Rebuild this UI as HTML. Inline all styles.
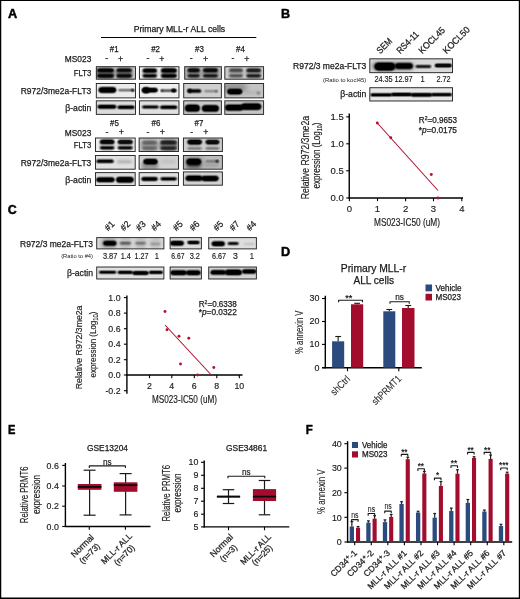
<!DOCTYPE html>
<html><head><meta charset="utf-8"><title>Figure</title>
<style>
html,body{margin:0;padding:0;background:#fff;}
body{width:520px;height:599px;overflow:hidden;position:relative;font-family:"Liberation Sans", sans-serif;}
svg{position:absolute;left:0;top:0;display:block;}
svg text{font-family:"Liberation Sans", sans-serif;}
</style></head><body>
<svg width="520" height="599" viewBox="0 0 520 599" fill="#1a1a1a">
<defs>
<filter id="b1" x="-50%" y="-300%" width="200%" height="700%"><feGaussianBlur stdDeviation="0.8"/><feComponentTransfer><feFuncA type="linear" slope="1.5" intercept="-0.08"/></feComponentTransfer></filter>
<filter id="b2" x="-50%" y="-300%" width="200%" height="700%"><feGaussianBlur stdDeviation="1.5"/></filter>
<filter id="b0" x="-50%" y="-300%" width="200%" height="700%"><feGaussianBlur stdDeviation="0.8"/><feComponentTransfer><feFuncA type="linear" slope="1.9" intercept="-0.1"/></feComponentTransfer></filter>
<filter id="b3" x="-50%" y="-300%" width="200%" height="700%"><feGaussianBlur stdDeviation="2.5"/></filter>
<filter id="bb" x="-5%" y="-20%" width="110%" height="140%"><feGaussianBlur stdDeviation="0.35"/></filter>
</defs>
<rect x="0.00" y="0.00" width="520.00" height="1.00" fill="#000"/>
<rect x="0.00" y="0.00" width="1.25" height="599.00" fill="#000"/>
<rect x="518.80" y="0.00" width="1.20" height="599.00" fill="#000"/>
<rect x="0.00" y="597.50" width="520.00" height="1.50" fill="#000"/>
<text x="7.90" y="18.10" font-size="12.4" font-weight="bold" textLength="9.20" lengthAdjust="spacingAndGlyphs" fill="#000" stroke="#000" stroke-width="0.45">A</text>
<text x="281.00" y="18.10" font-size="12.6" font-weight="bold" fill="#000" stroke="#000" stroke-width="0.45">B</text>
<text x="7.80" y="213.70" font-size="12.4" font-weight="bold" fill="#000" stroke="#000" stroke-width="0.45">C</text>
<text x="281.10" y="255.80" font-size="12.4" font-weight="bold" textLength="9.20" lengthAdjust="spacingAndGlyphs" fill="#000" stroke="#000" stroke-width="0.45">D</text>
<text x="8.10" y="433.80" font-size="12.4" font-weight="bold" textLength="7.40" lengthAdjust="spacingAndGlyphs" fill="#000" stroke="#000" stroke-width="0.45">E</text>
<text x="305.70" y="433.80" font-size="12.4" font-weight="bold" textLength="7.00" lengthAdjust="spacingAndGlyphs" fill="#000" stroke="#000" stroke-width="0.45">F</text>
<text x="133.70" y="31.60" font-size="8.8" textLength="91.50" lengthAdjust="spacingAndGlyphs" stroke="#1a1a1a" stroke-width="0.25">Primary MLL-r ALL cells</text>
<line x1="101.00" y1="37.50" x2="256.30" y2="37.50" stroke="#000" stroke-width="1.0"/>
<text x="114.20" y="52.20" font-size="8.8" text-anchor="middle" textLength="8.80" lengthAdjust="spacingAndGlyphs" stroke="#1a1a1a" stroke-width="0.25">#1</text>
<text x="155.60" y="52.20" font-size="8.8" text-anchor="middle" textLength="8.80" lengthAdjust="spacingAndGlyphs" stroke="#1a1a1a" stroke-width="0.25">#2</text>
<text x="199.40" y="52.20" font-size="8.8" text-anchor="middle" textLength="8.80" lengthAdjust="spacingAndGlyphs" stroke="#1a1a1a" stroke-width="0.25">#3</text>
<text x="240.50" y="52.20" font-size="8.8" text-anchor="middle" textLength="8.80" lengthAdjust="spacingAndGlyphs" stroke="#1a1a1a" stroke-width="0.25">#4</text>
<text x="91.30" y="61.70" font-size="8.8" text-anchor="end" textLength="26.50" lengthAdjust="spacingAndGlyphs" stroke="#1a1a1a" stroke-width="0.25">MS023</text>
<text x="106.80" y="61.30" font-size="8.8" text-anchor="middle" stroke="#1a1a1a" stroke-width="0.25">-</text>
<text x="120.50" y="61.60" font-size="8.8" text-anchor="middle" stroke="#1a1a1a" stroke-width="0.25">+</text>
<text x="148.00" y="61.30" font-size="8.8" text-anchor="middle" stroke="#1a1a1a" stroke-width="0.25">-</text>
<text x="161.80" y="61.60" font-size="8.8" text-anchor="middle" stroke="#1a1a1a" stroke-width="0.25">+</text>
<text x="191.30" y="61.30" font-size="8.8" text-anchor="middle" stroke="#1a1a1a" stroke-width="0.25">-</text>
<text x="205.50" y="61.60" font-size="8.8" text-anchor="middle" stroke="#1a1a1a" stroke-width="0.25">+</text>
<text x="233.00" y="61.30" font-size="8.8" text-anchor="middle" stroke="#1a1a1a" stroke-width="0.25">-</text>
<text x="246.80" y="61.60" font-size="8.8" text-anchor="middle" stroke="#1a1a1a" stroke-width="0.25">+</text>
<text x="91.30" y="75.50" font-size="8.8" text-anchor="end" textLength="17.50" lengthAdjust="spacingAndGlyphs" stroke="#1a1a1a" stroke-width="0.25">FLT3</text>
<text x="91.30" y="93.60" font-size="8.8" text-anchor="end" textLength="70.60" lengthAdjust="spacingAndGlyphs" stroke="#1a1a1a" stroke-width="0.25">R972/3me2a-FLT3</text>
<text x="91.30" y="110.70" font-size="8.8" text-anchor="end" textLength="26.00" lengthAdjust="spacingAndGlyphs" stroke="#1a1a1a" stroke-width="0.25">β-actin</text>
<clipPath id="c1"><rect x="95.90" y="66.30" width="40.00" height="13.30"/></clipPath>
<g clip-path="url(#c1)">
<rect x="95.90" y="66.30" width="40.00" height="13.30" fill="#c4c4c4"/>
<rect x="97.00" y="68.65" width="17.00" height="3.30" rx="1.65" fill="#000" opacity="0.95" filter="url(#b1)"/>
<rect x="97.00" y="74.25" width="17.00" height="3.30" rx="1.65" fill="#000" opacity="0.95" filter="url(#b1)"/>
<rect x="96.50" y="67.90" width="18.00" height="10.40" rx="5.20" fill="#000" opacity="0.5" filter="url(#b2)"/>
<rect x="116.40" y="68.75" width="15.50" height="3.10" rx="1.55" fill="#000" opacity="0.9" filter="url(#b1)"/>
<rect x="116.40" y="74.35" width="15.50" height="3.10" rx="1.55" fill="#000" opacity="0.9" filter="url(#b1)"/>
<rect x="115.90" y="68.00" width="16.50" height="10.20" rx="5.10" fill="#000" opacity="0.45" filter="url(#b2)"/>
</g>
<rect x="96.32" y="66.72" width="39.16" height="12.46" fill="none" stroke="#262626" stroke-width="0.95"/>
<clipPath id="c2"><rect x="95.90" y="83.10" width="40.00" height="15.20"/></clipPath>
<g clip-path="url(#c2)">
<rect x="95.90" y="83.10" width="40.00" height="15.20" fill="#ececec"/>
<rect x="98.60" y="87.35" width="17.60" height="5.50" rx="2.75" fill="#000" opacity="1" filter="url(#b1)"/>
<rect x="118.00" y="89.40" width="16.40" height="1.60" rx="0.80" fill="#000" opacity="0.6" filter="url(#b0)"/>
<ellipse cx="132.80" cy="90.20" rx="1.50" ry="1.20" fill="#000" opacity="0.8" filter="url(#b0)"/>
</g>
<rect x="96.32" y="83.52" width="39.16" height="14.36" fill="none" stroke="#262626" stroke-width="0.95"/>
<clipPath id="c3"><rect x="95.90" y="100.40" width="40.00" height="14.40"/></clipPath>
<g clip-path="url(#c3)">
<rect x="95.90" y="100.40" width="40.00" height="14.40" fill="#dcdcdc"/>
<rect x="97.50" y="105.10" width="18.90" height="3.40" rx="1.70" fill="#000" opacity="1" filter="url(#b1)"/>
<rect x="117.40" y="105.80" width="17.20" height="3.00" rx="1.50" fill="#000" opacity="1" filter="url(#b1)"/>
</g>
<rect x="96.32" y="100.82" width="39.16" height="13.56" fill="none" stroke="#262626" stroke-width="0.95"/>
<clipPath id="c4"><rect x="139.00" y="66.30" width="40.40" height="13.30"/></clipPath>
<g clip-path="url(#c4)">
<rect x="139.00" y="66.30" width="40.40" height="13.30" fill="#f2f2f2"/>
<rect x="142.60" y="68.70" width="14.40" height="3.80" rx="1.90" fill="#000" opacity="0.97" filter="url(#b1)"/>
<rect x="142.60" y="74.50" width="14.40" height="2.80" rx="1.40" fill="#000" opacity="0.97" filter="url(#b1)"/>
<rect x="142.10" y="67.95" width="15.40" height="10.60" rx="5.30" fill="#000" opacity="0.3" filter="url(#b2)"/>
<rect x="161.00" y="68.60" width="15.80" height="4.00" rx="2.00" fill="#000" opacity="0.98" filter="url(#b1)"/>
<rect x="161.00" y="74.30" width="15.80" height="3.20" rx="1.60" fill="#000" opacity="0.98" filter="url(#b1)"/>
<rect x="160.50" y="67.85" width="16.80" height="10.80" rx="5.40" fill="#000" opacity="0.4" filter="url(#b2)"/>
</g>
<rect x="139.42" y="66.72" width="39.56" height="12.46" fill="none" stroke="#262626" stroke-width="0.95"/>
<clipPath id="c5"><rect x="139.00" y="83.10" width="40.40" height="15.20"/></clipPath>
<g clip-path="url(#c5)">
<rect x="139.00" y="83.10" width="40.40" height="15.20" fill="#efefef"/>
<rect x="142.20" y="88.10" width="15.50" height="4.20" rx="2.10" fill="#000" opacity="1" filter="url(#b1)"/>
<ellipse cx="146.00" cy="90.20" rx="3.80" ry="3.00" fill="#000" opacity="1" filter="url(#b1)"/>
<rect x="160.60" y="89.75" width="16.20" height="1.70" rx="0.85" fill="#000" opacity="0.65" filter="url(#b0)"/>
<ellipse cx="173.80" cy="90.50" rx="2.40" ry="1.80" fill="#000" opacity="0.95" filter="url(#b0)"/>
<ellipse cx="162.00" cy="90.60" rx="1.30" ry="1.20" fill="#000" opacity="0.6" filter="url(#b0)"/>
</g>
<rect x="139.42" y="83.52" width="39.56" height="14.36" fill="none" stroke="#262626" stroke-width="0.95"/>
<clipPath id="c6"><rect x="139.00" y="100.40" width="40.40" height="14.40"/></clipPath>
<g clip-path="url(#c6)">
<rect x="139.00" y="100.40" width="40.40" height="14.40" fill="#e0e0e0"/>
<rect x="142.00" y="105.70" width="16.80" height="2.60" rx="1.30" fill="#000" opacity="1" filter="url(#b1)"/>
<rect x="160.00" y="105.70" width="17.30" height="3.00" rx="1.50" fill="#000" opacity="1" filter="url(#b1)"/>
</g>
<rect x="139.42" y="100.82" width="39.56" height="13.56" fill="none" stroke="#262626" stroke-width="0.95"/>
<clipPath id="c7"><rect x="184.30" y="66.30" width="37.50" height="13.30"/></clipPath>
<g clip-path="url(#c7)">
<rect x="184.30" y="66.30" width="37.50" height="13.30" fill="#b4b4b4"/>
<rect x="187.50" y="68.60" width="12.30" height="3.40" rx="1.70" fill="#000" opacity="0.9" filter="url(#b1)"/>
<rect x="187.50" y="74.80" width="12.30" height="2.20" rx="1.10" fill="#000" opacity="0.9" filter="url(#b1)"/>
<rect x="187.00" y="67.85" width="13.30" height="10.50" rx="5.25" fill="#000" opacity="0.3" filter="url(#b2)"/>
<rect x="203.00" y="68.60" width="14.90" height="3.40" rx="1.70" fill="#000" opacity="0.92" filter="url(#b1)"/>
<rect x="203.00" y="74.70" width="14.90" height="2.40" rx="1.20" fill="#000" opacity="0.92" filter="url(#b1)"/>
<rect x="202.50" y="67.85" width="15.90" height="10.50" rx="5.25" fill="#000" opacity="0.3" filter="url(#b2)"/>
</g>
<rect x="184.72" y="66.72" width="36.66" height="12.46" fill="none" stroke="#262626" stroke-width="0.95"/>
<clipPath id="c8"><rect x="183.30" y="83.10" width="38.50" height="15.20"/></clipPath>
<g clip-path="url(#c8)">
<rect x="183.30" y="83.10" width="38.50" height="15.20" fill="#cfcfcf"/>
<rect x="187.50" y="89.50" width="13.90" height="3.00" rx="1.50" fill="#000" opacity="0.95" filter="url(#b1)"/>
<ellipse cx="189.50" cy="90.80" rx="2.20" ry="2.00" fill="#000" opacity="0.9" filter="url(#b1)"/>
<rect x="204.00" y="90.55" width="13.80" height="1.50" rx="0.75" fill="#000" opacity="0.45" filter="url(#b1)"/>
<ellipse cx="216.50" cy="91.30" rx="1.30" ry="1.20" fill="#000" opacity="0.4" filter="url(#b1)"/>
</g>
<rect x="183.72" y="83.52" width="37.66" height="14.36" fill="none" stroke="#262626" stroke-width="0.95"/>
<clipPath id="c9"><rect x="183.30" y="100.40" width="38.50" height="14.40"/></clipPath>
<g clip-path="url(#c9)">
<rect x="183.30" y="100.40" width="38.50" height="14.40" fill="#c9c9c9"/>
<rect x="185.00" y="104.80" width="14.80" height="6.80" rx="3.40" fill="#000" opacity="1" filter="url(#b1)"/>
<rect x="202.00" y="105.30" width="16.80" height="6.20" rx="3.10" fill="#000" opacity="1" filter="url(#b1)"/>
</g>
<rect x="183.72" y="100.82" width="37.66" height="13.56" fill="none" stroke="#262626" stroke-width="0.95"/>
<clipPath id="c10"><rect x="224.40" y="66.30" width="39.60" height="13.30"/></clipPath>
<g clip-path="url(#c10)">
<rect x="224.40" y="66.30" width="39.60" height="13.30" fill="#cdcdcd"/>
<rect x="229.00" y="68.80" width="14.00" height="3.00" rx="1.50" fill="#000" opacity="0.55" filter="url(#b1)"/>
<rect x="229.00" y="74.80" width="14.00" height="2.20" rx="1.10" fill="#000" opacity="0.55" filter="url(#b1)"/>
<rect x="228.50" y="68.05" width="15.00" height="10.10" rx="5.05" fill="#000" opacity="0.2" filter="url(#b2)"/>
<rect x="246.30" y="68.70" width="14.70" height="3.20" rx="1.60" fill="#000" opacity="0.8" filter="url(#b1)"/>
<rect x="246.30" y="74.60" width="14.70" height="2.60" rx="1.30" fill="#000" opacity="0.8" filter="url(#b1)"/>
<rect x="245.80" y="67.95" width="15.70" height="10.30" rx="5.15" fill="#000" opacity="0.25" filter="url(#b2)"/>
</g>
<rect x="224.82" y="66.72" width="38.76" height="12.46" fill="none" stroke="#262626" stroke-width="0.95"/>
<clipPath id="c11"><rect x="224.40" y="83.10" width="39.60" height="15.20"/></clipPath>
<g clip-path="url(#c11)">
<rect x="224.40" y="83.10" width="39.60" height="15.20" fill="#c4c4c4"/>
<rect x="223.00" y="83.00" width="24.00" height="9.00" rx="4.50" fill="#000" opacity="0.25" filter="url(#b3)"/>
<rect x="227.30" y="88.90" width="14.90" height="5.40" rx="2.70" fill="#000" opacity="1" filter="url(#b1)"/>
<rect x="246.00" y="91.50" width="15.00" height="2.20" rx="1.10" fill="#000" opacity="0.12" filter="url(#b2)"/>
<ellipse cx="258.40" cy="93.00" rx="1.60" ry="1.50" fill="#000" opacity="0.3" filter="url(#b1)"/>
</g>
<rect x="224.82" y="83.52" width="38.76" height="14.36" fill="none" stroke="#262626" stroke-width="0.95"/>
<clipPath id="c12"><rect x="224.40" y="100.40" width="39.60" height="14.40"/></clipPath>
<g clip-path="url(#c12)">
<rect x="224.40" y="100.40" width="39.60" height="14.40" fill="#c6c6c6"/>
<rect x="225.00" y="104.70" width="18.50" height="5.80" rx="2.90" fill="#000" opacity="1" filter="url(#b1)"/>
<rect x="241.00" y="103.40" width="20.20" height="6.40" rx="3.20" fill="#000" opacity="1" filter="url(#b1)"/>
</g>
<rect x="224.82" y="100.82" width="38.76" height="13.56" fill="none" stroke="#262626" stroke-width="0.95"/>
<text x="114.50" y="126.10" font-size="8.8" text-anchor="middle" textLength="8.80" lengthAdjust="spacingAndGlyphs" stroke="#1a1a1a" stroke-width="0.25">#5</text>
<text x="156.00" y="126.10" font-size="8.8" text-anchor="middle" textLength="8.80" lengthAdjust="spacingAndGlyphs" stroke="#1a1a1a" stroke-width="0.25">#6</text>
<text x="199.00" y="126.10" font-size="8.8" text-anchor="middle" textLength="8.80" lengthAdjust="spacingAndGlyphs" stroke="#1a1a1a" stroke-width="0.25">#7</text>
<text x="91.30" y="135.60" font-size="8.8" text-anchor="end" textLength="26.50" lengthAdjust="spacingAndGlyphs" stroke="#1a1a1a" stroke-width="0.25">MS023</text>
<text x="107.00" y="135.10" font-size="8.8" text-anchor="middle" stroke="#1a1a1a" stroke-width="0.25">-</text>
<text x="121.30" y="135.40" font-size="8.8" text-anchor="middle" stroke="#1a1a1a" stroke-width="0.25">+</text>
<text x="147.90" y="135.10" font-size="8.8" text-anchor="middle" stroke="#1a1a1a" stroke-width="0.25">-</text>
<text x="162.20" y="135.40" font-size="8.8" text-anchor="middle" stroke="#1a1a1a" stroke-width="0.25">+</text>
<text x="191.80" y="135.10" font-size="8.8" text-anchor="middle" stroke="#1a1a1a" stroke-width="0.25">-</text>
<text x="205.80" y="135.40" font-size="8.8" text-anchor="middle" stroke="#1a1a1a" stroke-width="0.25">+</text>
<text x="91.30" y="148.10" font-size="8.8" text-anchor="end" textLength="17.50" lengthAdjust="spacingAndGlyphs" stroke="#1a1a1a" stroke-width="0.25">FLT3</text>
<text x="91.30" y="165.60" font-size="8.8" text-anchor="end" textLength="70.60" lengthAdjust="spacingAndGlyphs" stroke="#1a1a1a" stroke-width="0.25">R972/3me2a-FLT3</text>
<text x="91.30" y="183.10" font-size="8.8" text-anchor="end" textLength="26.00" lengthAdjust="spacingAndGlyphs" stroke="#1a1a1a" stroke-width="0.25">β-actin</text>
<clipPath id="c13"><rect x="95.10" y="137.60" width="40.50" height="14.30"/></clipPath>
<g clip-path="url(#c13)">
<rect x="95.10" y="137.60" width="40.50" height="14.30" fill="#efefef"/>
<rect x="99.80" y="139.70" width="14.70" height="4.40" rx="2.20" fill="#000" opacity="0.97" filter="url(#b1)"/>
<rect x="99.80" y="146.40" width="14.70" height="2.80" rx="1.40" fill="#000" opacity="0.97" filter="url(#b1)"/>
<rect x="99.30" y="138.95" width="15.70" height="11.80" rx="5.90" fill="#000" opacity="0.15" filter="url(#b2)"/>
<rect x="117.60" y="139.90" width="15.20" height="4.00" rx="2.00" fill="#000" opacity="0.95" filter="url(#b1)"/>
<rect x="117.60" y="146.40" width="15.20" height="2.80" rx="1.40" fill="#000" opacity="0.95" filter="url(#b1)"/>
<rect x="117.10" y="139.15" width="16.20" height="11.40" rx="5.70" fill="#000" opacity="0.15" filter="url(#b2)"/>
</g>
<rect x="95.52" y="138.02" width="39.66" height="13.46" fill="none" stroke="#262626" stroke-width="0.95"/>
<clipPath id="c14"><rect x="95.10" y="155.10" width="40.50" height="14.50"/></clipPath>
<g clip-path="url(#c14)">
<rect x="95.10" y="155.10" width="40.50" height="14.50" fill="#e2e2e2"/>
<rect x="96.30" y="159.80" width="17.50" height="3.00" rx="1.50" fill="#000" opacity="0.97" filter="url(#b1)"/>
<rect x="117.00" y="160.60" width="14.80" height="2.40" rx="1.20" fill="#000" opacity="0.3" filter="url(#b2)"/>
</g>
<rect x="95.52" y="155.52" width="39.66" height="13.66" fill="none" stroke="#262626" stroke-width="0.95"/>
<clipPath id="c15"><rect x="95.10" y="172.20" width="40.50" height="13.70"/></clipPath>
<g clip-path="url(#c15)">
<rect x="95.10" y="172.20" width="40.50" height="13.70" fill="#dedede"/>
<rect x="96.30" y="177.50" width="18.30" height="4.40" rx="2.20" fill="#000" opacity="1" filter="url(#b1)"/>
<rect x="116.20" y="177.00" width="17.40" height="5.40" rx="2.70" fill="#000" opacity="1" filter="url(#b1)"/>
</g>
<rect x="95.52" y="172.62" width="39.66" height="12.86" fill="none" stroke="#262626" stroke-width="0.95"/>
<clipPath id="c16"><rect x="138.70" y="137.60" width="40.20" height="14.30"/></clipPath>
<g clip-path="url(#c16)">
<rect x="138.70" y="137.60" width="40.20" height="14.30" fill="#bebebe"/>
<rect x="142.00" y="141.10" width="15.20" height="3.00" rx="1.50" fill="#000" opacity="0.3" filter="url(#b1)"/>
<rect x="142.00" y="147.00" width="15.20" height="2.40" rx="1.20" fill="#000" opacity="0.3" filter="url(#b1)"/>
<rect x="141.50" y="140.35" width="16.20" height="10.10" rx="5.05" fill="#000" opacity="0.25" filter="url(#b2)"/>
<rect x="160.30" y="140.70" width="16.50" height="3.40" rx="1.70" fill="#000" opacity="0.7" filter="url(#b1)"/>
<rect x="160.30" y="146.90" width="16.50" height="2.60" rx="1.30" fill="#000" opacity="0.7" filter="url(#b1)"/>
<rect x="159.80" y="139.95" width="17.50" height="10.70" rx="5.35" fill="#000" opacity="0.45" filter="url(#b2)"/>
</g>
<rect x="139.12" y="138.02" width="39.36" height="13.46" fill="none" stroke="#262626" stroke-width="0.95"/>
<clipPath id="c17"><rect x="138.70" y="155.10" width="40.20" height="14.50"/></clipPath>
<g clip-path="url(#c17)">
<rect x="138.70" y="155.10" width="40.20" height="14.50" fill="#d2d2d2"/>
<rect x="141.50" y="161.50" width="17.00" height="8.00" rx="4.00" fill="#000" opacity="0.3" filter="url(#b2)"/>
<rect x="143.40" y="159.00" width="14.20" height="5.20" rx="2.60" fill="#000" opacity="1" filter="url(#b1)"/>
<rect x="161.00" y="160.00" width="15.00" height="3.00" rx="1.50" fill="#000" opacity="0.1" filter="url(#b2)"/>
</g>
<rect x="139.12" y="155.52" width="39.36" height="13.66" fill="none" stroke="#262626" stroke-width="0.95"/>
<clipPath id="c18"><rect x="138.70" y="172.20" width="40.20" height="13.70"/></clipPath>
<g clip-path="url(#c18)">
<rect x="138.70" y="172.20" width="40.20" height="13.70" fill="#e0e0e0"/>
<rect x="141.30" y="177.30" width="16.50" height="3.40" rx="1.70" fill="#000" opacity="1" filter="url(#b1)"/>
<rect x="160.30" y="177.40" width="16.60" height="2.80" rx="1.40" fill="#000" opacity="1" filter="url(#b1)"/>
</g>
<rect x="139.12" y="172.62" width="39.36" height="12.86" fill="none" stroke="#262626" stroke-width="0.95"/>
<clipPath id="c19"><rect x="183.00" y="137.60" width="39.80" height="14.30"/></clipPath>
<g clip-path="url(#c19)">
<rect x="183.00" y="137.60" width="39.80" height="14.30" fill="#cdcdcd"/>
<rect x="187.30" y="139.80" width="14.70" height="4.60" rx="2.30" fill="#000" opacity="0.97" filter="url(#b1)"/>
<rect x="187.30" y="147.45" width="14.70" height="1.90" rx="0.95" fill="#000" opacity="0.5" filter="url(#b1)"/>
<rect x="205.50" y="139.90" width="13.90" height="4.40" rx="2.20" fill="#000" opacity="0.95" filter="url(#b1)"/>
<rect x="205.50" y="147.45" width="13.90" height="1.90" rx="0.95" fill="#000" opacity="0.55" filter="url(#b1)"/>
</g>
<rect x="183.42" y="138.02" width="38.96" height="13.46" fill="none" stroke="#262626" stroke-width="0.95"/>
<clipPath id="c20"><rect x="183.00" y="155.10" width="39.80" height="14.50"/></clipPath>
<g clip-path="url(#c20)">
<rect x="183.00" y="155.10" width="39.80" height="14.50" fill="#bcbcbc"/>
<rect x="184.00" y="157.00" width="20.00" height="12.00" rx="6.00" fill="#000" opacity="0.22" filter="url(#b3)"/>
<rect x="186.40" y="158.70" width="14.80" height="6.00" rx="3.00" fill="#000" opacity="1" filter="url(#b1)"/>
<rect x="187.00" y="162.50" width="13.50" height="5.00" rx="2.50" fill="#000" opacity="0.55" filter="url(#b2)"/>
<rect x="205.50" y="160.50" width="12.90" height="1.60" rx="0.80" fill="#000" opacity="0.5" filter="url(#b1)"/>
<ellipse cx="217.20" cy="161.20" rx="1.50" ry="1.30" fill="#000" opacity="0.75" filter="url(#b0)"/>
<rect x="205.00" y="163.00" width="14.00" height="4.00" rx="2.00" fill="#000" opacity="0.15" filter="url(#b2)"/>
</g>
<rect x="183.42" y="155.52" width="38.96" height="13.66" fill="none" stroke="#262626" stroke-width="0.95"/>
<clipPath id="c21"><rect x="183.00" y="171.50" width="39.80" height="14.10"/></clipPath>
<g clip-path="url(#c21)">
<rect x="183.00" y="171.50" width="39.80" height="14.10" fill="#d2d2d2"/>
<rect x="185.60" y="175.70" width="17.00" height="5.00" rx="2.50" fill="#000" opacity="1" filter="url(#b1)"/>
<rect x="201.40" y="176.10" width="17.20" height="4.80" rx="2.40" fill="#000" opacity="1" filter="url(#b1)"/>
</g>
<rect x="183.42" y="171.92" width="38.96" height="13.26" fill="none" stroke="#262626" stroke-width="0.95"/>
<text x="380.30" y="54.20" font-size="9.2" textLength="17.60" lengthAdjust="spacingAndGlyphs" transform="rotate(-45 380.30 54.20)" stroke="#1a1a1a" stroke-width="0.25">SEM</text>
<text x="400.20" y="54.20" font-size="9.2" textLength="27.20" lengthAdjust="spacingAndGlyphs" transform="rotate(-45 400.20 54.20)" stroke="#1a1a1a" stroke-width="0.25">RS4-11</text>
<text x="422.30" y="54.20" font-size="9.2" textLength="33.20" lengthAdjust="spacingAndGlyphs" transform="rotate(-45 422.30 54.20)" stroke="#1a1a1a" stroke-width="0.25">KOCL45</text>
<text x="446.50" y="54.20" font-size="9.2" textLength="33.80" lengthAdjust="spacingAndGlyphs" transform="rotate(-45 446.50 54.20)" stroke="#1a1a1a" stroke-width="0.25">KOCL50</text>
<text x="366.30" y="68.90" font-size="8.8" text-anchor="end" textLength="73.30" lengthAdjust="spacingAndGlyphs" stroke="#1a1a1a" stroke-width="0.25">R972/3 me2a-FLT3</text>
<text x="366.30" y="82.00" font-size="5.6" text-anchor="end" textLength="43.30" lengthAdjust="spacingAndGlyphs">(Ratio to kocl45)</text>
<text x="374.40" y="82.10" font-size="8.4" textLength="18.30" lengthAdjust="spacingAndGlyphs" stroke="#1a1a1a" stroke-width="0.15">24.35</text>
<text x="394.40" y="82.10" font-size="8.4" textLength="18.30" lengthAdjust="spacingAndGlyphs" stroke="#1a1a1a" stroke-width="0.15">12.97</text>
<text x="420.40" y="82.10" font-size="8.4" textLength="4.20" lengthAdjust="spacingAndGlyphs" stroke="#1a1a1a" stroke-width="0.15">1</text>
<text x="436.40" y="82.10" font-size="8.4" textLength="14.20" lengthAdjust="spacingAndGlyphs" stroke="#1a1a1a" stroke-width="0.15">2.72</text>
<text x="366.30" y="97.40" font-size="8.8" text-anchor="end" textLength="26.00" lengthAdjust="spacingAndGlyphs" stroke="#1a1a1a" stroke-width="0.25">β-actin</text>
<clipPath id="c22"><rect x="369.40" y="58.40" width="83.50" height="14.70"/></clipPath>
<g clip-path="url(#c22)">
<rect x="369.40" y="58.40" width="83.50" height="14.70" fill="#d9d9d9"/>
<rect x="371.50" y="61.80" width="42.50" height="9.00" rx="4.50" fill="#000" opacity="0.3" filter="url(#b2)"/>
<rect x="374.50" y="62.80" width="20.70" height="7.60" rx="3.80" fill="#000" opacity="1" filter="url(#b1)"/>
<rect x="395.00" y="63.20" width="17.80" height="5.60" rx="2.80" fill="#000" opacity="1" filter="url(#b1)"/>
<rect x="415.40" y="65.40" width="15.90" height="2.20" rx="1.10" fill="#000" opacity="0.9" filter="url(#b0)"/>
<rect x="434.90" y="64.10" width="16.80" height="3.00" rx="1.50" fill="#000" opacity="0.95" filter="url(#b0)"/>
</g>
<rect x="369.82" y="58.82" width="82.66" height="13.86" fill="none" stroke="#262626" stroke-width="0.95"/>
<clipPath id="c23"><rect x="369.40" y="87.30" width="83.50" height="14.10"/></clipPath>
<g clip-path="url(#c23)">
<rect x="369.40" y="87.30" width="83.50" height="14.10" fill="#e6e6e6"/>
<rect x="370.50" y="93.70" width="21.50" height="2.40" rx="1.20" fill="#000" opacity="1" filter="url(#b0)"/>
<rect x="391.00" y="93.20" width="21.00" height="2.60" rx="1.30" fill="#000" opacity="1" filter="url(#b0)"/>
<rect x="411.00" y="93.60" width="21.00" height="2.60" rx="1.30" fill="#000" opacity="1" filter="url(#b0)"/>
<rect x="431.00" y="93.40" width="21.00" height="2.40" rx="1.20" fill="#000" opacity="1" filter="url(#b0)"/>
</g>
<rect x="369.82" y="87.72" width="82.66" height="13.26" fill="none" stroke="#262626" stroke-width="0.95"/>
<line x1="349.25" y1="113.40" x2="349.25" y2="198.60" stroke="#000" stroke-width="1.4"/>
<line x1="348.60" y1="198.00" x2="463.00" y2="198.00" stroke="#000" stroke-width="1.4"/>
<line x1="346.20" y1="116.85" x2="349.30" y2="116.85" stroke="#000" stroke-width="1.1"/>
<text x="343.80" y="120.15" font-size="9.5" text-anchor="end" stroke="#1a1a1a" stroke-width="0.15">1.5</text>
<line x1="346.20" y1="143.80" x2="349.30" y2="143.80" stroke="#000" stroke-width="1.1"/>
<text x="343.80" y="147.10" font-size="9.5" text-anchor="end" stroke="#1a1a1a" stroke-width="0.15">1.0</text>
<line x1="346.20" y1="170.80" x2="349.30" y2="170.80" stroke="#000" stroke-width="1.1"/>
<text x="343.80" y="174.10" font-size="9.5" text-anchor="end" stroke="#1a1a1a" stroke-width="0.15">0.5</text>
<line x1="346.20" y1="198.00" x2="349.30" y2="198.00" stroke="#000" stroke-width="1.1"/>
<text x="343.80" y="201.30" font-size="9.5" text-anchor="end" stroke="#1a1a1a" stroke-width="0.15">0.0</text>
<line x1="349.40" y1="198.00" x2="349.40" y2="201.20" stroke="#000" stroke-width="1.1"/>
<text x="349.40" y="211.60" font-size="9.5" text-anchor="middle" stroke="#1a1a1a" stroke-width="0.15">0</text>
<line x1="377.50" y1="198.00" x2="377.50" y2="201.20" stroke="#000" stroke-width="1.1"/>
<text x="377.50" y="211.60" font-size="9.5" text-anchor="middle" stroke="#1a1a1a" stroke-width="0.15">1</text>
<line x1="405.60" y1="198.00" x2="405.60" y2="201.20" stroke="#000" stroke-width="1.1"/>
<text x="405.60" y="211.60" font-size="9.5" text-anchor="middle" stroke="#1a1a1a" stroke-width="0.15">2</text>
<line x1="433.50" y1="198.00" x2="433.50" y2="201.20" stroke="#000" stroke-width="1.1"/>
<text x="433.50" y="211.60" font-size="9.5" text-anchor="middle" stroke="#1a1a1a" stroke-width="0.15">3</text>
<line x1="461.80" y1="198.00" x2="461.80" y2="201.20" stroke="#000" stroke-width="1.1"/>
<text x="461.80" y="211.60" font-size="9.5" text-anchor="middle" stroke="#1a1a1a" stroke-width="0.15">4</text>
<text x="407.00" y="226.30" font-size="10.2" text-anchor="middle" textLength="66.00" lengthAdjust="spacingAndGlyphs" stroke="#1a1a1a" stroke-width="0.15">MS023-IC50 (uM)</text>
<text x="308.60" y="157.60" font-size="10.2" text-anchor="middle" textLength="83.40" lengthAdjust="spacingAndGlyphs" transform="rotate(-90 308.60 157.60)" stroke="#1a1a1a" stroke-width="0.15">Relative R972/3me2a</text>
<text x="320.20" y="155.50" font-size="10.2" text-anchor="middle" textLength="66.00" lengthAdjust="spacingAndGlyphs" transform="rotate(-90 320.20 155.50)" stroke="#1a1a1a" stroke-width="0.15">expression (Log<tspan font-size="6.8" dy="1.8">10</tspan><tspan dy="-1.8">)</tspan></text>
<line x1="377.30" y1="123.00" x2="438.00" y2="190.50" stroke="#b3122f" stroke-width="1.1"/>
<circle cx="377.3" cy="123" r="1.45" fill="#b3122f"/>
<circle cx="390.8" cy="137.8" r="1.45" fill="#b3122f"/>
<circle cx="431.3" cy="174.5" r="1.45" fill="#b3122f"/>
<circle cx="438" cy="198" r="1.45" fill="#b3122f"/>
<text x="418.80" y="122.80" font-size="8.2" textLength="38.20" lengthAdjust="spacingAndGlyphs" stroke="#1a1a1a" stroke-width="0.25">R<tspan font-size="5.2" dy="-2.8">2</tspan><tspan dy="2.8">=0.9653</tspan></text>
<text x="418.80" y="132.80" font-size="8.2" textLength="38.20" lengthAdjust="spacingAndGlyphs" stroke="#1a1a1a" stroke-width="0.25">*<tspan font-style="italic">p</tspan>=0.0175</text>
<text x="108.30" y="231.50" font-size="9.2" textLength="9.60" lengthAdjust="spacingAndGlyphs" transform="rotate(-45 108.30 231.50)" stroke="#1a1a1a" stroke-width="0.25">#1</text>
<text x="124.10" y="231.50" font-size="9.2" textLength="9.60" lengthAdjust="spacingAndGlyphs" transform="rotate(-45 124.10 231.50)" stroke="#1a1a1a" stroke-width="0.25">#2</text>
<text x="139.60" y="231.50" font-size="9.2" textLength="9.60" lengthAdjust="spacingAndGlyphs" transform="rotate(-45 139.60 231.50)" stroke="#1a1a1a" stroke-width="0.25">#3</text>
<text x="154.80" y="231.50" font-size="9.2" textLength="9.60" lengthAdjust="spacingAndGlyphs" transform="rotate(-45 154.80 231.50)" stroke="#1a1a1a" stroke-width="0.25">#4</text>
<text x="176.60" y="231.50" font-size="9.2" textLength="9.60" lengthAdjust="spacingAndGlyphs" transform="rotate(-45 176.60 231.50)" stroke="#1a1a1a" stroke-width="0.25">#5</text>
<text x="193.30" y="231.50" font-size="9.2" textLength="9.60" lengthAdjust="spacingAndGlyphs" transform="rotate(-45 193.30 231.50)" stroke="#1a1a1a" stroke-width="0.25">#6</text>
<text x="217.10" y="231.50" font-size="9.2" textLength="9.60" lengthAdjust="spacingAndGlyphs" transform="rotate(-45 217.10 231.50)" stroke="#1a1a1a" stroke-width="0.25">#5</text>
<text x="233.30" y="231.50" font-size="9.2" textLength="9.60" lengthAdjust="spacingAndGlyphs" transform="rotate(-45 233.30 231.50)" stroke="#1a1a1a" stroke-width="0.25">#7</text>
<text x="250.10" y="231.50" font-size="9.2" textLength="9.60" lengthAdjust="spacingAndGlyphs" transform="rotate(-45 250.10 231.50)" stroke="#1a1a1a" stroke-width="0.25">#4</text>
<text x="93.00" y="246.90" font-size="8.8" text-anchor="end" textLength="73.00" lengthAdjust="spacingAndGlyphs" stroke="#1a1a1a" stroke-width="0.25">R972/3 me2a-FLT3</text>
<text x="93.00" y="258.30" font-size="5.6" text-anchor="end" textLength="31.80" lengthAdjust="spacingAndGlyphs">(Ratio to #4)</text>
<text x="102.90" y="258.80" font-size="8.4" textLength="14.50" lengthAdjust="spacingAndGlyphs" stroke="#1a1a1a" stroke-width="0.15">3.87</text>
<text x="120.70" y="258.80" font-size="8.4" textLength="10.20" lengthAdjust="spacingAndGlyphs" stroke="#1a1a1a" stroke-width="0.15">1.4</text>
<text x="134.60" y="258.80" font-size="8.4" textLength="13.90" lengthAdjust="spacingAndGlyphs" stroke="#1a1a1a" stroke-width="0.15">1.27</text>
<text x="154.70" y="258.80" font-size="8.4" textLength="4.20" lengthAdjust="spacingAndGlyphs" stroke="#1a1a1a" stroke-width="0.15">1</text>
<text x="171.20" y="258.80" font-size="8.4" textLength="13.30" lengthAdjust="spacingAndGlyphs" stroke="#1a1a1a" stroke-width="0.15">6.67</text>
<text x="189.70" y="258.80" font-size="8.4" textLength="10.30" lengthAdjust="spacingAndGlyphs" stroke="#1a1a1a" stroke-width="0.15">3.2</text>
<text x="212.10" y="258.80" font-size="8.4" textLength="14.00" lengthAdjust="spacingAndGlyphs" stroke="#1a1a1a" stroke-width="0.15">6.67</text>
<text x="232.90" y="258.80" font-size="8.4" textLength="4.90" lengthAdjust="spacingAndGlyphs" stroke="#1a1a1a" stroke-width="0.15">3</text>
<text x="249.70" y="258.80" font-size="8.4" textLength="4.20" lengthAdjust="spacingAndGlyphs" stroke="#1a1a1a" stroke-width="0.15">1</text>
<text x="93.00" y="276.20" font-size="8.8" text-anchor="end" textLength="26.00" lengthAdjust="spacingAndGlyphs" stroke="#1a1a1a" stroke-width="0.25">β-actin</text>
<clipPath id="c24"><rect x="96.30" y="237.20" width="68.00" height="12.10"/></clipPath>
<g clip-path="url(#c24)">
<rect x="96.30" y="237.20" width="68.00" height="12.10" fill="#d9d9d9"/>
<rect x="100.50" y="237.20" width="17.00" height="12.00" rx="6.00" fill="#000" opacity="0.22" filter="url(#b2)"/>
<rect x="119.00" y="237.20" width="13.00" height="12.00" rx="6.00" fill="#000" opacity="0.12" filter="url(#b2)"/>
<rect x="134.50" y="237.20" width="12.50" height="12.00" rx="6.00" fill="#000" opacity="0.12" filter="url(#b2)"/>
<rect x="149.50" y="237.20" width="12.00" height="12.00" rx="6.00" fill="#000" opacity="0.1" filter="url(#b2)"/>
<rect x="103.20" y="241.00" width="13.20" height="4.40" rx="2.20" fill="#000" opacity="1" filter="url(#b1)"/>
<rect x="119.70" y="242.30" width="11.30" height="2.00" rx="1.00" fill="#000" opacity="0.6" filter="url(#b1)"/>
<rect x="135.30" y="242.30" width="10.50" height="2.00" rx="1.00" fill="#000" opacity="0.45" filter="url(#b1)"/>
<rect x="150.00" y="242.90" width="10.40" height="1.80" rx="0.90" fill="#000" opacity="0.25" filter="url(#b1)"/>
</g>
<rect x="96.72" y="237.62" width="67.16" height="11.26" fill="none" stroke="#262626" stroke-width="0.95"/>
<clipPath id="c25"><rect x="169.70" y="237.20" width="32.10" height="12.10"/></clipPath>
<g clip-path="url(#c25)">
<rect x="169.70" y="237.20" width="32.10" height="12.10" fill="#dedede"/>
<rect x="170.20" y="240.90" width="13.70" height="4.60" rx="2.30" fill="#000" opacity="1" filter="url(#b1)"/>
<rect x="187.40" y="241.20" width="12.20" height="2.60" rx="1.30" fill="#000" opacity="0.97" filter="url(#b0)"/>
</g>
<rect x="170.12" y="237.62" width="31.26" height="11.26" fill="none" stroke="#262626" stroke-width="0.95"/>
<clipPath id="c26"><rect x="208.30" y="237.20" width="48.50" height="12.10"/></clipPath>
<g clip-path="url(#c26)">
<rect x="208.30" y="237.20" width="48.50" height="12.10" fill="#dedede"/>
<rect x="211.60" y="241.40" width="13.30" height="4.60" rx="2.30" fill="#000" opacity="1" filter="url(#b1)"/>
<rect x="227.50" y="242.40" width="11.30" height="2.20" rx="1.10" fill="#000" opacity="0.95" filter="url(#b0)"/>
<rect x="243.40" y="242.90" width="11.20" height="1.80" rx="0.90" fill="#000" opacity="0.13" filter="url(#b1)"/>
</g>
<rect x="208.72" y="237.62" width="47.66" height="11.26" fill="none" stroke="#262626" stroke-width="0.95"/>
<clipPath id="c27"><rect x="96.30" y="266.60" width="68.00" height="12.80"/></clipPath>
<g clip-path="url(#c27)">
<rect x="96.30" y="266.60" width="68.00" height="12.80" fill="#e0e0e0"/>
<rect x="98.90" y="271.20" width="17.50" height="2.00" rx="1.00" fill="#000" opacity="1" filter="url(#b0)"/>
<rect x="117.60" y="271.25" width="15.40" height="2.30" rx="1.15" fill="#000" opacity="1" filter="url(#b0)"/>
<rect x="132.50" y="271.45" width="16.10" height="3.10" rx="1.55" fill="#000" opacity="1" filter="url(#b0)"/>
<rect x="148.80" y="271.25" width="14.20" height="2.30" rx="1.15" fill="#000" opacity="1" filter="url(#b0)"/>
</g>
<rect x="96.72" y="267.02" width="67.16" height="11.96" fill="none" stroke="#262626" stroke-width="0.95"/>
<clipPath id="c28"><rect x="169.70" y="266.60" width="32.10" height="12.80"/></clipPath>
<g clip-path="url(#c28)">
<rect x="169.70" y="266.60" width="32.10" height="12.80" fill="#d4d4d4"/>
<rect x="170.40" y="270.50" width="16.40" height="4.60" rx="2.30" fill="#000" opacity="1" filter="url(#b1)"/>
<rect x="186.00" y="270.50" width="14.60" height="4.60" rx="2.30" fill="#000" opacity="1" filter="url(#b1)"/>
</g>
<rect x="170.12" y="267.02" width="31.26" height="11.96" fill="none" stroke="#262626" stroke-width="0.95"/>
<clipPath id="c29"><rect x="208.30" y="266.60" width="48.50" height="12.80"/></clipPath>
<g clip-path="url(#c29)">
<rect x="208.30" y="266.60" width="48.50" height="12.80" fill="#d4d4d4"/>
<rect x="210.50" y="270.20" width="15.50" height="4.40" rx="2.20" fill="#000" opacity="1" filter="url(#b1)"/>
<rect x="225.00" y="269.70" width="16.80" height="5.40" rx="2.70" fill="#000" opacity="1" filter="url(#b1)"/>
<rect x="242.00" y="269.40" width="14.40" height="4.00" rx="2.00" fill="#000" opacity="1" filter="url(#b1)"/>
</g>
<rect x="208.72" y="267.02" width="47.66" height="11.96" fill="none" stroke="#262626" stroke-width="0.95"/>
<line x1="126.90" y1="295.50" x2="126.90" y2="393.80" stroke="#000" stroke-width="1.4"/>
<line x1="126.30" y1="375.00" x2="242.50" y2="375.00" stroke="#000" stroke-width="1.4"/>
<line x1="123.90" y1="297.60" x2="126.90" y2="297.60" stroke="#000" stroke-width="1.1"/>
<text x="120.60" y="300.70" font-size="8.8" text-anchor="end" stroke="#1a1a1a" stroke-width="0.15">1.0</text>
<line x1="123.90" y1="313.10" x2="126.90" y2="313.10" stroke="#000" stroke-width="1.1"/>
<text x="120.60" y="316.20" font-size="8.8" text-anchor="end" stroke="#1a1a1a" stroke-width="0.15">0.8</text>
<line x1="123.90" y1="328.70" x2="126.90" y2="328.70" stroke="#000" stroke-width="1.1"/>
<text x="120.60" y="331.80" font-size="8.8" text-anchor="end" stroke="#1a1a1a" stroke-width="0.15">0.6</text>
<line x1="123.90" y1="344.20" x2="126.90" y2="344.20" stroke="#000" stroke-width="1.1"/>
<text x="120.60" y="347.30" font-size="8.8" text-anchor="end" stroke="#1a1a1a" stroke-width="0.15">0.4</text>
<line x1="123.90" y1="359.70" x2="126.90" y2="359.70" stroke="#000" stroke-width="1.1"/>
<text x="120.60" y="362.80" font-size="8.8" text-anchor="end" stroke="#1a1a1a" stroke-width="0.15">0.2</text>
<line x1="123.90" y1="375.00" x2="126.90" y2="375.00" stroke="#000" stroke-width="1.1"/>
<text x="120.60" y="378.10" font-size="8.8" text-anchor="end" stroke="#1a1a1a" stroke-width="0.15">0.0</text>
<line x1="123.90" y1="390.70" x2="126.90" y2="390.70" stroke="#000" stroke-width="1.1"/>
<text x="120.60" y="393.80" font-size="8.8" text-anchor="end" stroke="#1a1a1a" stroke-width="0.15">-0.2</text>
<line x1="149.50" y1="375.00" x2="149.50" y2="378.20" stroke="#000" stroke-width="1.1"/>
<text x="149.50" y="389.40" font-size="8.8" text-anchor="middle" stroke="#1a1a1a" stroke-width="0.15">2</text>
<line x1="171.80" y1="375.00" x2="171.80" y2="378.20" stroke="#000" stroke-width="1.1"/>
<text x="171.80" y="389.40" font-size="8.8" text-anchor="middle" stroke="#1a1a1a" stroke-width="0.15">4</text>
<line x1="194.30" y1="375.00" x2="194.30" y2="378.20" stroke="#000" stroke-width="1.1"/>
<text x="194.30" y="389.40" font-size="8.8" text-anchor="middle" stroke="#1a1a1a" stroke-width="0.15">6</text>
<line x1="216.80" y1="375.00" x2="216.80" y2="378.20" stroke="#000" stroke-width="1.1"/>
<text x="216.80" y="389.40" font-size="8.8" text-anchor="middle" stroke="#1a1a1a" stroke-width="0.15">8</text>
<line x1="239.30" y1="375.00" x2="239.30" y2="378.20" stroke="#000" stroke-width="1.1"/>
<text x="239.30" y="389.40" font-size="8.8" text-anchor="middle" stroke="#1a1a1a" stroke-width="0.15">10</text>
<text x="184.50" y="403.30" font-size="10.2" text-anchor="middle" textLength="65.00" lengthAdjust="spacingAndGlyphs" stroke="#1a1a1a" stroke-width="0.15">MS023-IC50 (uM)</text>
<text x="82.00" y="347.40" font-size="9.3" text-anchor="middle" textLength="83.60" lengthAdjust="spacingAndGlyphs" transform="rotate(-90 82.00 347.40)" stroke="#1a1a1a" stroke-width="0.15">Relative R972/3me2a</text>
<text x="96.20" y="344.50" font-size="9.3" text-anchor="middle" textLength="66.00" lengthAdjust="spacingAndGlyphs" transform="rotate(-90 96.20 344.50)" stroke="#1a1a1a" stroke-width="0.15">expression (Log<tspan font-size="6.8" dy="1.8">10</tspan><tspan dy="-1.8">)</tspan></text>
<line x1="165.00" y1="325.00" x2="211.30" y2="375.00" stroke="#b3122f" stroke-width="1.1"/>
<circle cx="165" cy="311.5" r="1.45" fill="#b3122f"/>
<circle cx="167" cy="329.8" r="1.45" fill="#b3122f"/>
<circle cx="179" cy="336.3" r="1.45" fill="#b3122f"/>
<circle cx="188.8" cy="338.3" r="1.45" fill="#b3122f"/>
<circle cx="180.5" cy="364" r="1.45" fill="#b3122f"/>
<circle cx="197.5" cy="375" r="1.45" fill="#b3122f"/>
<circle cx="213.8" cy="367.5" r="1.45" fill="#b3122f"/>
<text x="198.80" y="306.50" font-size="8.2" textLength="38.00" lengthAdjust="spacingAndGlyphs" stroke="#1a1a1a" stroke-width="0.25">R<tspan font-size="5.2" dy="-2.8">2</tspan><tspan dy="2.8">=0.6338</tspan></text>
<text x="198.80" y="315.40" font-size="8.2" textLength="38.00" lengthAdjust="spacingAndGlyphs" stroke="#1a1a1a" stroke-width="0.25">*<tspan font-style="italic">p</tspan>=0.0322</text>
<text x="373.50" y="272.30" font-size="10.6" text-anchor="middle" textLength="65.50" lengthAdjust="spacingAndGlyphs" stroke="#1a1a1a" stroke-width="0.25">Primary MLL-r</text>
<text x="373.70" y="284.40" font-size="10.6" text-anchor="middle" textLength="40.60" lengthAdjust="spacingAndGlyphs" stroke="#1a1a1a" stroke-width="0.25">ALL cells</text>
<line x1="325.30" y1="295.70" x2="325.30" y2="368.30" stroke="#000" stroke-width="1.4"/>
<line x1="322.30" y1="367.70" x2="421.80" y2="367.70" stroke="#000" stroke-width="1.4"/>
<line x1="322.00" y1="298.50" x2="325.30" y2="298.50" stroke="#000" stroke-width="1.1"/>
<text x="319.40" y="301.40" font-size="8.9" text-anchor="end" stroke="#1a1a1a" stroke-width="0.15">30</text>
<line x1="322.00" y1="321.50" x2="325.30" y2="321.50" stroke="#000" stroke-width="1.1"/>
<text x="319.40" y="324.40" font-size="8.9" text-anchor="end" stroke="#1a1a1a" stroke-width="0.15">20</text>
<line x1="322.00" y1="344.40" x2="325.30" y2="344.40" stroke="#000" stroke-width="1.1"/>
<text x="319.40" y="347.30" font-size="8.9" text-anchor="end" stroke="#1a1a1a" stroke-width="0.15">10</text>
<line x1="322.00" y1="367.70" x2="325.30" y2="367.70" stroke="#000" stroke-width="1.1"/>
<text x="319.40" y="370.60" font-size="8.9" text-anchor="end" stroke="#1a1a1a" stroke-width="0.15">0</text>
<text x="302.90" y="332.20" font-size="10.8" text-anchor="middle" textLength="43.40" lengthAdjust="spacingAndGlyphs" transform="rotate(-90 302.90 332.20)" stroke="#1a1a1a" stroke-width="0.1">% annexin V</text>
<rect x="332.10" y="341.30" width="12.10" height="26.40" fill="#2b4a7e"/>
<line x1="338.15" y1="336.50" x2="338.15" y2="341.30" stroke="#1a1a1a" stroke-width="1.1"/>
<line x1="335.25" y1="336.50" x2="341.05" y2="336.50" stroke="#1a1a1a" stroke-width="1.1"/>
<rect x="351.00" y="304.30" width="12.20" height="63.40" fill="#a30d2d"/>
<line x1="357.10" y1="303.30" x2="357.10" y2="304.30" stroke="#1a1a1a" stroke-width="1.1"/>
<line x1="354.20" y1="303.30" x2="360.00" y2="303.30" stroke="#1a1a1a" stroke-width="1.1"/>
<rect x="383.30" y="311.30" width="12.00" height="56.40" fill="#2b4a7e"/>
<line x1="389.30" y1="309.50" x2="389.30" y2="311.30" stroke="#1a1a1a" stroke-width="1.1"/>
<line x1="386.40" y1="309.50" x2="392.20" y2="309.50" stroke="#1a1a1a" stroke-width="1.1"/>
<rect x="402.00" y="308.00" width="12.50" height="59.70" fill="#a30d2d"/>
<line x1="408.25" y1="305.50" x2="408.25" y2="308.00" stroke="#1a1a1a" stroke-width="1.1"/>
<line x1="405.35" y1="305.50" x2="411.15" y2="305.50" stroke="#1a1a1a" stroke-width="1.1"/>
<line x1="347.50" y1="367.70" x2="347.50" y2="371.20" stroke="#000" stroke-width="1.1"/>
<line x1="398.80" y1="367.70" x2="398.80" y2="371.20" stroke="#000" stroke-width="1.1"/>
<path d="M338.60 302.30V300.30H362.50V302.30" fill="none" stroke="#1a1a1a" stroke-width="1.1" stroke-linejoin="round"/>
<text x="348.80" y="300.60" font-size="9" text-anchor="middle" font-weight="bold">**</text>
<path d="M390.00 303.70V301.70H409.30V303.70" fill="none" stroke="#1a1a1a" stroke-width="1.1" stroke-linejoin="round"/>
<text x="399.50" y="300.10" font-size="9.3" text-anchor="middle" textLength="8.70" lengthAdjust="spacingAndGlyphs" stroke="#1a1a1a" stroke-width="0.2">ns</text>
<rect x="425.50" y="284.50" width="6.50" height="6.80" fill="#2b4a7e"/>
<rect x="425.50" y="293.80" width="6.50" height="6.70" fill="#a30d2d"/>
<text x="435.50" y="290.80" font-size="8.2" textLength="26.00" lengthAdjust="spacingAndGlyphs" stroke="#1a1a1a" stroke-width="0.25">Vehicle</text>
<text x="435.50" y="300.00" font-size="8.2" textLength="25.50" lengthAdjust="spacingAndGlyphs" stroke="#1a1a1a" stroke-width="0.25">MS023</text>
<text x="350.80" y="379.80" font-size="10.2" text-anchor="end" textLength="23.00" lengthAdjust="spacingAndGlyphs" transform="rotate(-45 350.80 379.80)" stroke="#1a1a1a" stroke-width="0.05">shCtrl</text>
<text x="402.00" y="379.40" font-size="10.2" text-anchor="end" textLength="37.00" lengthAdjust="spacingAndGlyphs" transform="rotate(-45 402.00 379.40)" stroke="#1a1a1a" stroke-width="0.05">shPRMT1</text>
<text x="107.50" y="450.70" font-size="8.4" text-anchor="middle" stroke="#1a1a1a" stroke-width="0.25">GSE13204</text>
<text x="246.60" y="450.50" font-size="8.4" text-anchor="middle" stroke="#1a1a1a" stroke-width="0.25">GSE34861</text>
<line x1="65.40" y1="463.00" x2="65.40" y2="527.00" stroke="#000" stroke-width="1.4"/>
<line x1="64.80" y1="526.50" x2="150.50" y2="526.50" stroke="#000" stroke-width="1.4"/>
<line x1="62.20" y1="465.40" x2="65.40" y2="465.40" stroke="#000" stroke-width="1.1"/>
<text x="58.80" y="468.50" font-size="8.8" text-anchor="end" stroke="#1a1a1a" stroke-width="0.15">0.6</text>
<line x1="62.20" y1="486.00" x2="65.40" y2="486.00" stroke="#000" stroke-width="1.1"/>
<text x="58.80" y="489.10" font-size="8.8" text-anchor="end" stroke="#1a1a1a" stroke-width="0.15">0.4</text>
<line x1="62.20" y1="506.20" x2="65.40" y2="506.20" stroke="#000" stroke-width="1.1"/>
<text x="58.80" y="509.30" font-size="8.8" text-anchor="end" stroke="#1a1a1a" stroke-width="0.15">0.2</text>
<line x1="62.20" y1="526.50" x2="65.40" y2="526.50" stroke="#000" stroke-width="1.1"/>
<text x="58.80" y="529.60" font-size="8.8" text-anchor="end" stroke="#1a1a1a" stroke-width="0.15">0.0</text>
<line x1="89.30" y1="526.50" x2="89.30" y2="529.80" stroke="#000" stroke-width="1.1"/>
<line x1="125.40" y1="526.50" x2="125.40" y2="529.80" stroke="#000" stroke-width="1.1"/>
<line x1="89.60" y1="470.20" x2="89.60" y2="515.20" stroke="#1a1a1a" stroke-width="1.2"/>
<line x1="83.60" y1="470.20" x2="95.60" y2="470.20" stroke="#1a1a1a" stroke-width="1.2"/>
<line x1="83.60" y1="515.20" x2="95.60" y2="515.20" stroke="#1a1a1a" stroke-width="1.2"/>
<rect x="77.80" y="484.00" width="23.60" height="5.80" fill="#a30d2d"/>
<line x1="77.80" y1="486.90" x2="101.40" y2="486.90" stroke="#0a0a0a" stroke-width="1.8"/>
<line x1="125.60" y1="473.60" x2="125.60" y2="514.90" stroke="#1a1a1a" stroke-width="1.2"/>
<line x1="119.60" y1="473.60" x2="131.60" y2="473.60" stroke="#1a1a1a" stroke-width="1.2"/>
<line x1="119.60" y1="514.90" x2="131.60" y2="514.90" stroke="#1a1a1a" stroke-width="1.2"/>
<rect x="113.80" y="482.30" width="23.60" height="9.50" fill="#a30d2d"/>
<line x1="113.80" y1="485.20" x2="137.40" y2="485.20" stroke="#0a0a0a" stroke-width="1.8"/>
<path d="M89.30 467.90V465.90H125.40V467.90" fill="none" stroke="#1a1a1a" stroke-width="1.1" stroke-linejoin="round"/>
<text x="107.30" y="464.90" font-size="9.3" text-anchor="middle" textLength="8.70" lengthAdjust="spacingAndGlyphs" stroke="#1a1a1a" stroke-width="0.2">ns</text>
<text x="28.20" y="494.80" font-size="10.2" text-anchor="middle" textLength="56.80" lengthAdjust="spacingAndGlyphs" transform="rotate(-90 28.20 494.80)" stroke="#1a1a1a" stroke-width="0.15">Relative PRMT6</text>
<text x="39.90" y="494.50" font-size="10.2" text-anchor="middle" textLength="39.00" lengthAdjust="spacingAndGlyphs" transform="rotate(-90 39.90 494.50)" stroke="#1a1a1a" stroke-width="0.15">expression</text>
<text x="94.50" y="538.00" font-size="8.8" text-anchor="end" transform="rotate(-45 94.50 538.00)" stroke="#1a1a1a" stroke-width="0.25">Normal</text>
<text x="100.60" y="546.60" font-size="8.6" text-anchor="end" transform="rotate(-45 100.60 546.60)" stroke="#1a1a1a" stroke-width="0.25">(n=73)</text>
<text x="132.60" y="536.70" font-size="8.6" text-anchor="end" transform="rotate(-45 132.60 536.70)" stroke="#1a1a1a" stroke-width="0.25">MLL-r ALL</text>
<text x="135.30" y="548.20" font-size="8.6" text-anchor="end" transform="rotate(-45 135.30 548.20)" stroke="#1a1a1a" stroke-width="0.25">(n=70)</text>
<line x1="204.20" y1="460.50" x2="204.20" y2="527.50" stroke="#000" stroke-width="1.4"/>
<line x1="203.60" y1="526.90" x2="289.30" y2="526.90" stroke="#000" stroke-width="1.4"/>
<line x1="201.00" y1="462.30" x2="204.20" y2="462.30" stroke="#000" stroke-width="1.1"/>
<text x="198.40" y="465.40" font-size="8.8" text-anchor="end" stroke="#1a1a1a" stroke-width="0.15">10</text>
<line x1="201.00" y1="475.30" x2="204.20" y2="475.30" stroke="#000" stroke-width="1.1"/>
<text x="198.40" y="478.40" font-size="8.8" text-anchor="end" stroke="#1a1a1a" stroke-width="0.15">9</text>
<line x1="201.00" y1="488.30" x2="204.20" y2="488.30" stroke="#000" stroke-width="1.1"/>
<text x="198.40" y="491.40" font-size="8.8" text-anchor="end" stroke="#1a1a1a" stroke-width="0.15">8</text>
<line x1="201.00" y1="501.20" x2="204.20" y2="501.20" stroke="#000" stroke-width="1.1"/>
<text x="198.40" y="504.30" font-size="8.8" text-anchor="end" stroke="#1a1a1a" stroke-width="0.15">7</text>
<line x1="201.00" y1="514.20" x2="204.20" y2="514.20" stroke="#000" stroke-width="1.1"/>
<text x="198.40" y="517.30" font-size="8.8" text-anchor="end" stroke="#1a1a1a" stroke-width="0.15">6</text>
<line x1="201.00" y1="526.90" x2="204.20" y2="526.90" stroke="#000" stroke-width="1.1"/>
<text x="198.40" y="530.00" font-size="8.8" text-anchor="end" stroke="#1a1a1a" stroke-width="0.15">5</text>
<line x1="228.50" y1="526.90" x2="228.50" y2="530.20" stroke="#000" stroke-width="1.1"/>
<line x1="264.50" y1="526.90" x2="264.50" y2="530.20" stroke="#000" stroke-width="1.1"/>
<line x1="228.50" y1="489.70" x2="228.50" y2="503.50" stroke="#1a1a1a" stroke-width="1.2"/>
<line x1="222.75" y1="489.70" x2="234.25" y2="489.70" stroke="#1a1a1a" stroke-width="1.2"/>
<line x1="222.75" y1="503.50" x2="234.25" y2="503.50" stroke="#1a1a1a" stroke-width="1.2"/>
<rect x="216.90" y="495.80" width="23.20" height="1.70" fill="#a30d2d"/>
<line x1="216.90" y1="496.60" x2="240.10" y2="496.60" stroke="#0a0a0a" stroke-width="1.8"/>
<line x1="264.50" y1="480.50" x2="264.50" y2="514.80" stroke="#1a1a1a" stroke-width="1.2"/>
<line x1="258.75" y1="480.50" x2="270.25" y2="480.50" stroke="#1a1a1a" stroke-width="1.2"/>
<line x1="258.75" y1="514.80" x2="270.25" y2="514.80" stroke="#1a1a1a" stroke-width="1.2"/>
<rect x="252.90" y="489.10" width="23.20" height="11.90" fill="#a30d2d"/>
<line x1="252.90" y1="496.60" x2="276.10" y2="496.60" stroke="#0a0a0a" stroke-width="1.8"/>
<path d="M227.90 478.20V476.20H264.80V478.20" fill="none" stroke="#1a1a1a" stroke-width="1.1" stroke-linejoin="round"/>
<text x="246.40" y="474.90" font-size="9.3" text-anchor="middle" textLength="8.70" lengthAdjust="spacingAndGlyphs" stroke="#1a1a1a" stroke-width="0.2">ns</text>
<text x="169.60" y="493.20" font-size="10.2" text-anchor="middle" textLength="56.80" lengthAdjust="spacingAndGlyphs" transform="rotate(-90 169.60 493.20)" stroke="#1a1a1a" stroke-width="0.15">Relative PRMT6</text>
<text x="181.20" y="493.00" font-size="10.2" text-anchor="middle" textLength="39.00" lengthAdjust="spacingAndGlyphs" transform="rotate(-90 181.20 493.00)" stroke="#1a1a1a" stroke-width="0.15">expression</text>
<text x="233.60" y="537.60" font-size="8.8" text-anchor="end" transform="rotate(-45 233.60 537.60)" stroke="#1a1a1a" stroke-width="0.25">Normal</text>
<text x="237.70" y="547.90" font-size="8.6" text-anchor="end" transform="rotate(-45 237.70 547.90)" stroke="#1a1a1a" stroke-width="0.25">(n=3)</text>
<text x="271.70" y="537.30" font-size="8.6" text-anchor="end" transform="rotate(-45 271.70 537.30)" stroke="#1a1a1a" stroke-width="0.25">MLL-r ALL</text>
<text x="273.00" y="548.20" font-size="8.6" text-anchor="end" transform="rotate(-45 273.00 548.20)" stroke="#1a1a1a" stroke-width="0.25">(n=25)</text>
<line x1="347.60" y1="441.20" x2="347.60" y2="542.60" stroke="#000" stroke-width="1.4"/>
<line x1="347.00" y1="542.00" x2="512.20" y2="542.00" stroke="#000" stroke-width="1.4"/>
<line x1="344.40" y1="443.70" x2="347.60" y2="443.70" stroke="#000" stroke-width="1.1"/>
<text x="341.80" y="446.90" font-size="8.9" text-anchor="end" stroke="#1a1a1a" stroke-width="0.15">40</text>
<line x1="344.40" y1="468.10" x2="347.60" y2="468.10" stroke="#000" stroke-width="1.1"/>
<text x="341.80" y="471.30" font-size="8.9" text-anchor="end" stroke="#1a1a1a" stroke-width="0.15">30</text>
<line x1="344.40" y1="492.70" x2="347.60" y2="492.70" stroke="#000" stroke-width="1.1"/>
<text x="341.80" y="495.90" font-size="8.9" text-anchor="end" stroke="#1a1a1a" stroke-width="0.15">20</text>
<line x1="344.40" y1="517.30" x2="347.60" y2="517.30" stroke="#000" stroke-width="1.1"/>
<text x="341.80" y="520.50" font-size="8.9" text-anchor="end" stroke="#1a1a1a" stroke-width="0.15">10</text>
<line x1="344.40" y1="542.00" x2="347.60" y2="542.00" stroke="#000" stroke-width="1.1"/>
<text x="341.80" y="545.20" font-size="8.9" text-anchor="end" stroke="#1a1a1a" stroke-width="0.15">0</text>
<text x="325.30" y="491.70" font-size="10.6" text-anchor="middle" textLength="44.80" lengthAdjust="spacingAndGlyphs" transform="rotate(-90 325.30 491.70)" stroke="#1a1a1a" stroke-width="0.1">% annexin V</text>
<rect x="352.00" y="442.00" width="6.00" height="6.00" fill="#2b4a7e"/>
<rect x="352.00" y="451.30" width="6.00" height="6.20" fill="#a30d2d"/>
<text x="362.00" y="448.00" font-size="8.2" textLength="25.50" lengthAdjust="spacingAndGlyphs" stroke="#1a1a1a" stroke-width="0.25">Vehicle</text>
<text x="362.00" y="457.30" font-size="8.2" textLength="25.50" lengthAdjust="spacingAndGlyphs" stroke="#1a1a1a" stroke-width="0.25">MS023</text>
<rect x="349.70" y="526.52" width="4.30" height="15.48" fill="#2b4a7e"/>
<line x1="351.85" y1="521.61" x2="351.85" y2="526.52" stroke="#1a1a1a" stroke-width="1.2"/>
<line x1="350.45" y1="521.61" x2="353.25" y2="521.61" stroke="#1a1a1a" stroke-width="1.2"/>
<rect x="356.00" y="527.75" width="4.10" height="14.25" fill="#a30d2d"/>
<line x1="358.05" y1="526.52" x2="358.05" y2="527.75" stroke="#1a1a1a" stroke-width="1.2"/>
<line x1="356.65" y1="526.52" x2="359.45" y2="526.52" stroke="#1a1a1a" stroke-width="1.2"/>
<line x1="354.70" y1="542.00" x2="354.70" y2="545.30" stroke="#000" stroke-width="1.1"/>
<path d="M351.60 521.80V519.60H358.10V521.80" fill="none" stroke="#1a1a1a" stroke-width="1.1" stroke-linejoin="round"/>
<text x="354.90" y="517.60" font-size="8.3" text-anchor="middle" textLength="7.30" lengthAdjust="spacingAndGlyphs" stroke="#1a1a1a" stroke-width="0.08">ns</text>
<text x="357.60" y="553.60" font-size="8.6" text-anchor="end" transform="rotate(-45 357.60 553.60)" stroke="#1a1a1a" stroke-width="0.25">CD34<tspan font-size="6.6" dy="-2.6">+</tspan><tspan dy="2.6">-1</tspan></text>
<rect x="366.27" y="522.59" width="4.30" height="19.41" fill="#2b4a7e"/>
<line x1="368.42" y1="520.87" x2="368.42" y2="522.59" stroke="#1a1a1a" stroke-width="1.2"/>
<line x1="367.02" y1="520.87" x2="369.82" y2="520.87" stroke="#1a1a1a" stroke-width="1.2"/>
<rect x="372.57" y="518.66" width="4.10" height="23.34" fill="#a30d2d"/>
<line x1="374.62" y1="515.71" x2="374.62" y2="518.66" stroke="#1a1a1a" stroke-width="1.2"/>
<line x1="373.22" y1="515.71" x2="376.02" y2="515.71" stroke="#1a1a1a" stroke-width="1.2"/>
<line x1="371.27" y1="542.00" x2="371.27" y2="545.30" stroke="#000" stroke-width="1.1"/>
<path d="M368.17 515.70V513.50H374.67V515.70" fill="none" stroke="#1a1a1a" stroke-width="1.1" stroke-linejoin="round"/>
<text x="371.47" y="511.50" font-size="8.3" text-anchor="middle" textLength="7.30" lengthAdjust="spacingAndGlyphs" stroke="#1a1a1a" stroke-width="0.08">ns</text>
<text x="374.17" y="553.60" font-size="8.6" text-anchor="end" transform="rotate(-45 374.17 553.60)" stroke="#1a1a1a" stroke-width="0.25">CD34<tspan font-size="6.6" dy="-2.6">+</tspan><tspan dy="2.6">-2</tspan></text>
<rect x="382.84" y="522.10" width="4.30" height="19.90" fill="#2b4a7e"/>
<line x1="384.99" y1="519.89" x2="384.99" y2="522.10" stroke="#1a1a1a" stroke-width="1.2"/>
<line x1="383.59" y1="519.89" x2="386.39" y2="519.89" stroke="#1a1a1a" stroke-width="1.2"/>
<rect x="389.14" y="516.94" width="4.10" height="25.06" fill="#a30d2d"/>
<line x1="391.19" y1="514.48" x2="391.19" y2="516.94" stroke="#1a1a1a" stroke-width="1.2"/>
<line x1="389.79" y1="514.48" x2="392.59" y2="514.48" stroke="#1a1a1a" stroke-width="1.2"/>
<line x1="387.84" y1="542.00" x2="387.84" y2="545.30" stroke="#000" stroke-width="1.1"/>
<path d="M384.74 513.30V511.10H391.24V513.30" fill="none" stroke="#1a1a1a" stroke-width="1.1" stroke-linejoin="round"/>
<text x="388.04" y="509.10" font-size="8.3" text-anchor="middle" textLength="7.30" lengthAdjust="spacingAndGlyphs" stroke="#1a1a1a" stroke-width="0.08">ns</text>
<text x="390.74" y="553.60" font-size="8.6" text-anchor="end" transform="rotate(-45 390.74 553.60)" stroke="#1a1a1a" stroke-width="0.25">CD34<tspan font-size="6.6" dy="-2.6">+</tspan><tspan dy="2.6">-3</tspan></text>
<rect x="399.41" y="503.92" width="4.30" height="38.08" fill="#2b4a7e"/>
<line x1="401.56" y1="501.71" x2="401.56" y2="503.92" stroke="#1a1a1a" stroke-width="1.2"/>
<line x1="400.16" y1="501.71" x2="402.96" y2="501.71" stroke="#1a1a1a" stroke-width="1.2"/>
<rect x="405.71" y="459.20" width="4.10" height="82.80" fill="#a30d2d"/>
<line x1="407.76" y1="457.23" x2="407.76" y2="459.20" stroke="#1a1a1a" stroke-width="1.2"/>
<line x1="406.36" y1="457.23" x2="409.16" y2="457.23" stroke="#1a1a1a" stroke-width="1.2"/>
<line x1="404.41" y1="542.00" x2="404.41" y2="545.30" stroke="#000" stroke-width="1.1"/>
<path d="M401.31 456.60V454.40H407.81V456.60" fill="none" stroke="#1a1a1a" stroke-width="1.1" stroke-linejoin="round"/>
<text x="404.31" y="454.50" font-size="9" text-anchor="middle" font-weight="bold" textLength="6.30" lengthAdjust="spacingAndGlyphs">**</text>
<text x="407.31" y="553.60" font-size="8.6" text-anchor="end" transform="rotate(-45 407.31 553.60)" stroke="#1a1a1a" stroke-width="0.25">MLL-r ALL #1</text>
<rect x="415.98" y="512.52" width="4.30" height="29.48" fill="#2b4a7e"/>
<line x1="418.13" y1="511.29" x2="418.13" y2="512.52" stroke="#1a1a1a" stroke-width="1.2"/>
<line x1="416.73" y1="511.29" x2="419.53" y2="511.29" stroke="#1a1a1a" stroke-width="1.2"/>
<rect x="422.28" y="473.45" width="4.10" height="68.55" fill="#a30d2d"/>
<line x1="424.33" y1="471.48" x2="424.33" y2="473.45" stroke="#1a1a1a" stroke-width="1.2"/>
<line x1="422.93" y1="471.48" x2="425.73" y2="471.48" stroke="#1a1a1a" stroke-width="1.2"/>
<line x1="420.98" y1="542.00" x2="420.98" y2="545.30" stroke="#000" stroke-width="1.1"/>
<path d="M417.88 470.90V468.70H424.38V470.90" fill="none" stroke="#1a1a1a" stroke-width="1.1" stroke-linejoin="round"/>
<text x="420.88" y="468.80" font-size="9" text-anchor="middle" font-weight="bold" textLength="6.30" lengthAdjust="spacingAndGlyphs">**</text>
<text x="423.88" y="553.60" font-size="8.6" text-anchor="end" transform="rotate(-45 423.88 553.60)" stroke="#1a1a1a" stroke-width="0.25">MLL-r ALL #2</text>
<rect x="432.55" y="517.68" width="4.30" height="24.32" fill="#2b4a7e"/>
<line x1="434.70" y1="513.50" x2="434.70" y2="517.68" stroke="#1a1a1a" stroke-width="1.2"/>
<line x1="433.30" y1="513.50" x2="436.10" y2="513.50" stroke="#1a1a1a" stroke-width="1.2"/>
<rect x="438.85" y="485.98" width="4.10" height="56.02" fill="#a30d2d"/>
<line x1="440.90" y1="481.56" x2="440.90" y2="485.98" stroke="#1a1a1a" stroke-width="1.2"/>
<line x1="439.50" y1="481.56" x2="442.30" y2="481.56" stroke="#1a1a1a" stroke-width="1.2"/>
<line x1="437.55" y1="542.00" x2="437.55" y2="545.30" stroke="#000" stroke-width="1.1"/>
<path d="M434.45 480.30V478.10H440.95V480.30" fill="none" stroke="#1a1a1a" stroke-width="1.1" stroke-linejoin="round"/>
<text x="437.45" y="478.20" font-size="9" text-anchor="middle" font-weight="bold" textLength="3.15" lengthAdjust="spacingAndGlyphs">*</text>
<text x="440.45" y="553.60" font-size="8.6" text-anchor="end" transform="rotate(-45 440.45 553.60)" stroke="#1a1a1a" stroke-width="0.25">MLL-r ALL #3</text>
<rect x="449.12" y="511.04" width="4.30" height="30.96" fill="#2b4a7e"/>
<line x1="451.27" y1="508.09" x2="451.27" y2="511.04" stroke="#1a1a1a" stroke-width="1.2"/>
<line x1="449.87" y1="508.09" x2="452.67" y2="508.09" stroke="#1a1a1a" stroke-width="1.2"/>
<rect x="455.42" y="473.70" width="4.10" height="68.30" fill="#a30d2d"/>
<line x1="457.47" y1="469.76" x2="457.47" y2="473.70" stroke="#1a1a1a" stroke-width="1.2"/>
<line x1="456.07" y1="469.76" x2="458.87" y2="469.76" stroke="#1a1a1a" stroke-width="1.2"/>
<line x1="454.12" y1="542.00" x2="454.12" y2="545.30" stroke="#000" stroke-width="1.1"/>
<path d="M451.02 467.90V465.70H457.52V467.90" fill="none" stroke="#1a1a1a" stroke-width="1.1" stroke-linejoin="round"/>
<text x="454.02" y="465.80" font-size="9" text-anchor="middle" font-weight="bold" textLength="6.30" lengthAdjust="spacingAndGlyphs">**</text>
<text x="457.02" y="553.60" font-size="8.6" text-anchor="end" transform="rotate(-45 457.02 553.60)" stroke="#1a1a1a" stroke-width="0.25">MLL-r ALL #4</text>
<rect x="465.69" y="502.93" width="4.30" height="39.07" fill="#2b4a7e"/>
<line x1="467.84" y1="499.49" x2="467.84" y2="502.93" stroke="#1a1a1a" stroke-width="1.2"/>
<line x1="466.44" y1="499.49" x2="469.24" y2="499.49" stroke="#1a1a1a" stroke-width="1.2"/>
<rect x="471.99" y="457.97" width="4.10" height="84.03" fill="#a30d2d"/>
<line x1="474.04" y1="456.74" x2="474.04" y2="457.97" stroke="#1a1a1a" stroke-width="1.2"/>
<line x1="472.64" y1="456.74" x2="475.44" y2="456.74" stroke="#1a1a1a" stroke-width="1.2"/>
<line x1="470.69" y1="542.00" x2="470.69" y2="545.30" stroke="#000" stroke-width="1.1"/>
<path d="M467.59 454.60V452.40H474.09V454.60" fill="none" stroke="#1a1a1a" stroke-width="1.1" stroke-linejoin="round"/>
<text x="470.59" y="452.50" font-size="9" text-anchor="middle" font-weight="bold" textLength="6.30" lengthAdjust="spacingAndGlyphs">**</text>
<text x="473.59" y="553.60" font-size="8.6" text-anchor="end" transform="rotate(-45 473.59 553.60)" stroke="#1a1a1a" stroke-width="0.25">MLL-r ALL #5</text>
<rect x="482.26" y="511.53" width="4.30" height="30.47" fill="#2b4a7e"/>
<line x1="484.41" y1="510.06" x2="484.41" y2="511.53" stroke="#1a1a1a" stroke-width="1.2"/>
<line x1="483.01" y1="510.06" x2="485.81" y2="510.06" stroke="#1a1a1a" stroke-width="1.2"/>
<rect x="488.56" y="458.95" width="4.10" height="83.05" fill="#a30d2d"/>
<line x1="490.61" y1="455.02" x2="490.61" y2="458.95" stroke="#1a1a1a" stroke-width="1.2"/>
<line x1="489.21" y1="455.02" x2="492.01" y2="455.02" stroke="#1a1a1a" stroke-width="1.2"/>
<line x1="487.26" y1="542.00" x2="487.26" y2="545.30" stroke="#000" stroke-width="1.1"/>
<path d="M484.16 454.60V452.40H490.66V454.60" fill="none" stroke="#1a1a1a" stroke-width="1.1" stroke-linejoin="round"/>
<text x="487.16" y="452.50" font-size="9" text-anchor="middle" font-weight="bold" textLength="6.30" lengthAdjust="spacingAndGlyphs">**</text>
<text x="490.16" y="553.60" font-size="8.6" text-anchor="end" transform="rotate(-45 490.16 553.60)" stroke="#1a1a1a" stroke-width="0.25">MLL-r ALL #6</text>
<rect x="498.83" y="526.03" width="4.30" height="15.97" fill="#2b4a7e"/>
<line x1="500.98" y1="524.31" x2="500.98" y2="526.03" stroke="#1a1a1a" stroke-width="1.2"/>
<line x1="499.58" y1="524.31" x2="502.38" y2="524.31" stroke="#1a1a1a" stroke-width="1.2"/>
<rect x="505.13" y="473.70" width="4.10" height="68.30" fill="#a30d2d"/>
<line x1="507.18" y1="472.22" x2="507.18" y2="473.70" stroke="#1a1a1a" stroke-width="1.2"/>
<line x1="505.78" y1="472.22" x2="508.58" y2="472.22" stroke="#1a1a1a" stroke-width="1.2"/>
<line x1="503.83" y1="542.00" x2="503.83" y2="545.30" stroke="#000" stroke-width="1.1"/>
<path d="M500.73 470.20V468.00H507.23V470.20" fill="none" stroke="#1a1a1a" stroke-width="1.1" stroke-linejoin="round"/>
<text x="503.73" y="468.10" font-size="9" text-anchor="middle" font-weight="bold" textLength="9.45" lengthAdjust="spacingAndGlyphs">***</text>
<text x="506.73" y="553.60" font-size="8.6" text-anchor="end" transform="rotate(-45 506.73 553.60)" stroke="#1a1a1a" stroke-width="0.25">MLL-r ALL #7</text>
</svg>
</body></html>
